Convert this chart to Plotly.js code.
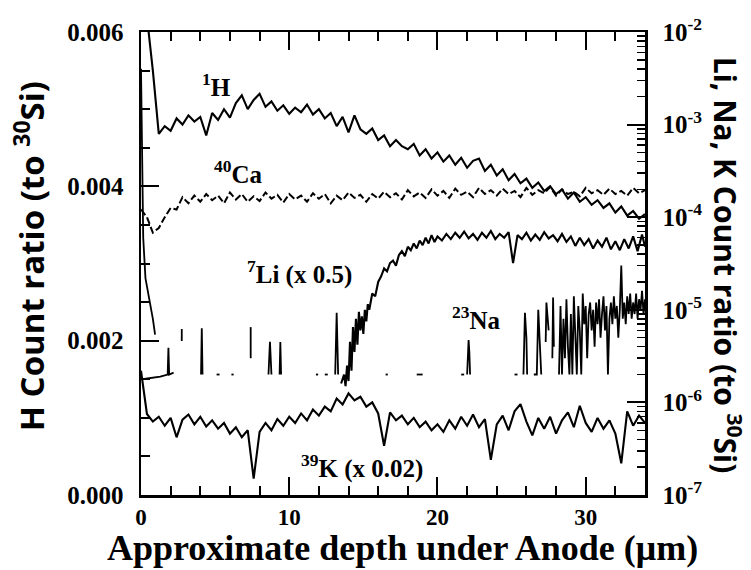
<!DOCTYPE html>
<html>
<head>
<meta charset="utf-8">
<script src="https://cdn.plot.ly/plotly-3.0.1.min.js"></script>
<style>html,body{margin:0;padding:0;background:#fff;}#chart{width:751px;height:570px;}</style>
</head>
<body>
<div id="chart"></div>
<script>
// ---- data ----
const depth = [
  0,0.4,0.8,1.2,1.6,2,2.4,2.8,3.2,3.6,
  4,4.4,4.8,5.2,5.6,6,6.4,6.8,7.2,7.6,
  8,8.4,8.8,9.2,9.6,10,10.4,10.8,11.2,11.6,
  12,12.4,12.8,13.2,13.6,14,14.4,14.8,15.2,15.6,
  16,16.4,16.8,17.2,17.6,18,18.4,18.8,19.2,19.6,
  20,20.4,20.8,21.2,21.6,22,22.4,22.8,23.2,23.6,
  24,24.4,24.8,25.2,25.6,26,26.4,26.8,27.2,27.6,
  28,28.4,28.8,29.2,29.6,30,30.4,30.8,31.2,31.6,
  32,32.4,32.8,33.2,33.6,34];

const hRatio = [
  0.0063,0.0062,0.0055,0.00468,0.00478,0.00472,0.00488,0.00480,0.00492,0.00484,
  0.00490,0.00466,0.00495,0.00486,0.00500,0.00489,0.00508,0.00518,0.00500,0.00512,
  0.00520,0.00503,0.00510,0.00498,0.00505,0.00494,0.00502,0.00496,0.00506,0.00493,
  0.00500,0.00488,0.00495,0.00478,0.00490,0.00470,0.00492,0.00474,0.00468,0.00475,
  0.00460,0.00466,0.00452,0.00460,0.00452,0.00448,0.00455,0.00440,0.00448,0.00436,
  0.00444,0.00432,0.00440,0.00428,0.00437,0.00424,0.00433,0.00436,0.00420,0.00428,
  0.00414,0.00422,0.00408,0.00416,0.00404,0.00410,0.00398,0.00405,0.00394,0.00400,
  0.00390,0.00396,0.00384,0.00392,0.00380,0.00386,0.00376,0.00382,0.00372,0.00378,
  0.00366,0.00374,0.00362,0.00368,0.00358,0.00364];

const caRatio = [
  0.00370,0.00360,0.00340,0.00346,0.00360,0.00372,0.00370,0.00386,0.00378,0.00388,
  0.00380,0.00390,0.00382,0.00388,0.00378,0.00392,0.00383,0.00390,0.00380,0.00387,
  0.00381,0.00392,0.00384,0.00389,0.00379,0.00390,0.00383,0.00388,0.00380,0.00391,
  0.00384,0.00390,0.00378,0.00388,0.00382,0.00392,0.00385,0.00389,0.00380,0.00390,
  0.00384,0.00393,0.00386,0.00391,0.00383,0.00395,0.00387,0.00392,0.00385,0.00396,
  0.00388,0.00394,0.00385,0.00397,0.00389,0.00393,0.00386,0.00398,0.00390,0.00395,
  0.00388,0.00397,0.00390,0.00394,0.00386,0.00398,0.00389,0.00395,0.00391,0.00399,
  0.00388,0.00396,0.00390,0.00393,0.00387,0.00398,0.00391,0.00395,0.00389,0.00397,
  0.00390,0.00394,0.00388,0.00398,0.00391,0.00395];

const kRatio = [
  2.2e-6,7.5e-7,6.2e-7,7.0e-7,5.6e-7,6.8e-7,4.2e-7,6.5e-7,7.4e-7,5.8e-7,
  7.0e-7,5.5e-7,6.4e-7,5.2e-7,6.0e-7,4.6e-7,5.4e-7,4.2e-7,5.0e-7,1.5e-7,
  4.8e-7,6.0e-7,5.0e-7,6.6e-7,5.6e-7,7.0e-7,6.0e-7,7.6e-7,6.4e-7,8.4e-7,
  7.2e-7,9.0e-7,8.0e-7,1.1e-6,9.5e-7,1.25e-6,1.05e-6,1.15e-6,9.0e-7,1.0e-6,
  7.6e-7,3.4e-7,7.8e-7,6.4e-7,7.2e-7,5.8e-7,6.8e-7,5.4e-7,6.2e-7,5.0e-7,
  5.8e-7,4.8e-7,6.4e-7,5.2e-7,7.0e-7,5.6e-7,7.4e-7,5.4e-7,6.6e-7,2.4e-7,
  5.8e-7,7.2e-7,5.0e-7,8.0e-7,9.6e-7,6.2e-7,4.4e-7,6.8e-7,5.2e-7,7.0e-7,
  4.6e-7,6.4e-7,7.8e-7,5.4e-7,9.2e-7,6.0e-7,4.8e-7,6.8e-7,5.2e-7,6.4e-7,
  4.6e-7,2.2e-7,8.0e-7,5.6e-7,7.2e-7,6.0e-7];

const liDepth = [
  13.5,13.7,13.8,13.9,14.0,14.1,14.2,14.3,14.4,14.5,
  14.6,14.7,14.8,14.9,15.0,15.1,15.2,15.3,15.4,15.6,
  15.8,16.0,16.2,16.4,16.6,16.8,17.0,17.2,17.4,17.6,
  17.8,18.0,18.2,18.4,18.6,18.8,19.0,19.2,19.4,19.6,
  19.8,20.0,20.3,20.6,20.9,21.2,21.5,21.8,22.1,22.4,
  22.7,23.0,23.3,23.6,23.9,24.2,24.5,24.8,25.1,25.4,
  25.7,26.0,26.3,26.6,26.9,27.2,27.5,27.8,28.1,28.4,
  28.7,29.0,29.3,29.6,29.9,30.2,30.5,30.8,31.1,31.4,
  31.7,32.0,32.3,32.6,32.9,33.2,33.5,33.8,34.0];
const liRatio = [
  1.6e-6,2.0e-6,1.5e-6,2.5e-6,1.7e-6,4.5e-6,2.2e-6,6.5e-6,3.5e-6,8.0e-6,
  4.2e-6,9.5e-6,6.0e-6,8.5e-6,5.5e-6,1.0e-5,7.5e-6,1.15e-5,1.0e-5,1.5e-5,
  1.4e-5,2.0e-5,2.3e-5,2.8e-5,2.6e-5,3.2e-5,3.4e-5,3.0e-5,3.9e-5,4.3e-5,
  3.8e-5,4.8e-5,4.4e-5,5.2e-5,4.6e-5,5.6e-5,5.0e-5,6.0e-5,5.2e-5,6.4e-5,
  5.4e-5,6.2e-5,5.6e-5,6.6e-5,5.8e-5,6.8e-5,6.0e-5,7.0e-5,5.9e-5,6.6e-5,
  5.7e-5,6.8e-5,6.0e-5,7.1e-5,5.8e-5,6.6e-5,6.0e-5,6.9e-5,3.2e-5,6.4e-5,
  5.8e-5,6.8e-5,5.6e-5,6.5e-5,5.7e-5,6.9e-5,5.9e-5,6.4e-5,5.5e-5,6.6e-5,
  5.4e-5,6.2e-5,4.9e-5,6.0e-5,5.0e-5,5.8e-5,4.6e-5,5.6e-5,4.8e-5,6.0e-5,
  4.5e-5,5.5e-5,4.4e-5,5.8e-5,4.6e-5,6.2e-5,4.3e-5,6.5e-5,4.8e-5];

// Na: null entries separate the pieces (zero counts are not drawn on a log scale)
const naDepth = [
  0.0,0.08,0.15,0.3,0.5,0.65,0.8,0.95,null,
  0.3,0.8,1.3,1.8,1.85,1.9,2.2,null,
  2.75,2.75,null,
  4.05,4.1,4.15,null,
  5.1,5.3,null,6.1,6.25,null,
  7.4,7.4,null,
  8.6,8.7,8.8,null,9.35,9.4,9.45,null,
  11.8,11.95,null,12.4,12.6,null,
  13.1,13.2,13.3,null,
  16.5,16.65,null,18.6,19.0,null,21.6,21.8,null,
  22.0,22.1,22.15,22.2,null,
  25.2,25.4,null,25.8,25.9,26.0,26.05,null,
  26.5,26.7,26.8,26.9,27.0,null,
  27.3,27.35,27.5,null,27.75,27.8,27.85,null,
  28.2,28.3,28.4,28.5,28.6,28.7,28.8,28.9,29.0,29.1,
  29.2,29.3,29.4,29.5,29.6,29.7,29.8,29.9,30.0,30.1,
  30.2,30.3,30.4,30.5,30.6,30.7,30.8,30.9,31.0,31.1,
  31.2,31.3,31.4,31.5,31.6,31.7,31.8,31.9,32.0,32.1,
  32.2,32.3,32.4,32.5,32.6,32.7,32.8,32.9,33.0,33.1,
  33.2,33.3,33.4,33.5,33.6,33.7,33.8,33.9,34.0];
const naRatio = [
  4e-3,5e-4,6e-5,2.2e-5,1.5e-5,1.15e-5,8e-6,5.4e-6,null,
  1.8e-6,1.85e-6,1.9e-6,2.0e-6,3.9e-6,2.0e-6,2.1e-6,null,
  4.6e-6,6.2e-6,null,
  2.0e-6,6.3e-6,2.0e-6,null,
  2.0e-6,2.0e-6,null,2.0e-6,2.0e-6,null,
  3.0e-6,6.5e-6,null,
  2.0e-6,4.5e-6,2.0e-6,null,2.0e-6,4.5e-6,2.0e-6,null,
  2.0e-6,2.0e-6,null,2.0e-6,2.0e-6,null,
  2.0e-6,9.3e-6,2.0e-6,null,
  2.0e-6,2.0e-6,null,2.0e-6,2.0e-6,null,2.0e-6,2.0e-6,null,
  2.0e-6,4.7e-6,3.5e-6,2.0e-6,null,
  2.0e-6,2.0e-6,null,2.0e-6,9.3e-6,5.0e-6,2.0e-6,null,
  2.0e-6,2.0e-6,1.0e-5,4.0e-6,2.0e-6,null,
  4.5e-6,1.2e-5,6.0e-6,null,3.0e-6,1.36e-5,4.0e-6,null,
  2e-6,1.1e-5,2e-6,8e-6,3e-6,1.3e-5,4e-6,2e-6,9e-6,2e-6,
  1.4e-5,5e-6,2e-6,1.1e-5,6e-6,2e-6,1.5e-5,7e-6,1.1e-5,3e-6,
  9e-6,1.2e-5,6e-6,1e-5,4e-6,1.2e-5,7e-6,1.3e-5,5e-6,9e-6,
  1.4e-5,6e-6,1.1e-5,2e-6,8e-6,1.2e-5,7e-6,1.4e-5,8e-6,1.1e-5,
  5e-6,1e-5,3e-5,8e-6,1.2e-5,7e-6,1.4e-5,9e-6,1.5e-5,8e-6,
  1.2e-5,9e-6,1.5e-5,8e-6,1.3e-5,1e-5,1.6e-5,9e-6,1.3e-5];

const rightTickVals = [1e-7,1e-6,1e-5,1e-4,1e-3,1e-2];
const rightTickText = ['10<sup>-7</sup>','10<sup>-6</sup>','10<sup>-5</sup>','10<sup>-4</sup>','10<sup>-3</sup>','10<sup>-2</sup>'];

const labelText = ['<sup>1</sup>H','<sup>40</sup>Ca','<sup>7</sup>Li (x 0.5)','<sup>23</sup>Na','<sup>39</sup>K (x 0.02)'];
const labelDepth = [5.1, 6.6, 10.7, 22.6, 14.9];
const labelLevel = [0.00531, 0.00419, 0.00288, 0.00229, 0.00037];

const xTitle = 'Approximate depth under Anode (μm)';
const yTitle = 'H Count ratio (to <sup>30</sup>Si)';
const y2Title = 'Li, Na, K Count ratio (to <sup>30</sup>Si)';

// ---- build chart ----
const serif = 'Liberation Serif, Times New Roman, serif';
const sans = 'Open Sans, Noto Sans, sans-serif';
const ink = '#000';

const minorLog = [];
for (let e = -7; e < -2; e++) {
  for (let m = 2; m <= 9; m++) minorLog.push(m * Math.pow(10, e));
}

const traces = [
  {x: depth, y: hRatio, yaxis: 'y', name: 'H', mode: 'lines', line: {color: ink, width: 2.1}},
  {x: depth, y: caRatio, yaxis: 'y', name: 'Ca', mode: 'lines', line: {color: ink, width: 2, dash: '7px,3px'}},
  {x: liDepth, y: liRatio, yaxis: 'y2', name: 'Li', mode: 'lines', line: {color: ink, width: 2.1}},
  {x: naDepth, y: naRatio, yaxis: 'y2', name: 'Na', mode: 'lines', connectgaps: false, line: {color: ink, width: 1.8}},
  {x: depth, y: kRatio, yaxis: 'y2', name: 'K', mode: 'lines', line: {color: ink, width: 2.1}}
];

const annotations = labelText.map((t, i) => ({
  x: labelDepth[i], y: labelLevel[i], xref: 'x', yref: 'y', text: t, showarrow: false,
  font: {family: serif, size: 25, color: ink, weight: 'bold'}, xanchor: 'center', yanchor: 'middle'
}));
annotations.push({
  x: 0.518, y: -0.114, xref: 'paper', yref: 'paper', showarrow: false, text: xTitle,
  font: {family: serif, size: 36, color: ink, weight: 'bold'}, xanchor: 'center', yanchor: 'middle'
});
annotations.push({
  x: -0.222, y: 0.516, xref: 'paper', yref: 'paper', textangle: -90, showarrow: false, text: yTitle,
  font: {family: sans, size: 33, color: ink, weight: 'bold'}, xanchor: 'center', yanchor: 'middle'
});
annotations.push({
  x: 1.163, y: 0.497, xref: 'paper', yref: 'paper', textangle: 90, showarrow: false, text: y2Title,
  font: {family: sans, size: 30, color: ink, weight: 'bold'}, xanchor: 'center', yanchor: 'middle'
});

const layout = {
  width: 751, height: 570,
  margin: {l: 141, r: 106, t: 32, b: 75},
  paper_bgcolor: '#fff', plot_bgcolor: '#fff',
  showlegend: false,
  xaxis: {
    range: [0, 34], dtick: 10, tick0: 0, showgrid: false, zeroline: false,
    showline: true, linecolor: ink, linewidth: 2.5, mirror: 'ticks',
    ticks: 'inside', ticklen: 18, tickwidth: 2, tickcolor: ink,
    minor: {dtick: 2, ticks: 'inside', ticklen: 9, tickwidth: 2, tickcolor: ink, showgrid: false},
    tickfont: {family: serif, size: 23, color: ink, weight: 'bold'},
    ticklabelstandoff: 0
  },
  yaxis: {
    range: [0, 0.006], dtick: 0.002, tick0: 0, tickformat: '.3f',
    showgrid: false, zeroline: false,
    showline: true, linecolor: ink, linewidth: 2.5,
    ticks: 'inside', ticklen: 18, tickwidth: 2, tickcolor: ink,
    minor: {dtick: 0.0005, ticks: 'inside', ticklen: 9, tickwidth: 2, tickcolor: ink, showgrid: false},
    tickfont: {family: serif, size: 25, color: ink, weight: 'bold'},
    ticklabelstandoff: 10
  },
  yaxis2: {
    type: 'log', range: [-7, -2], overlaying: 'y', side: 'right',
    showgrid: false, zeroline: false,
    showline: true, linecolor: ink, linewidth: 2.5,
    tickmode: 'array', tickvals: rightTickVals, ticktext: rightTickText,
    ticks: 'inside', ticklen: 18, tickwidth: 2, tickcolor: ink,
    minor: {tickmode: 'array', tickvals: minorLog, ticks: 'inside', ticklen: 8, tickwidth: 1.5, tickcolor: ink, showgrid: false},
    tickfont: {family: serif, size: 25, color: ink, weight: 'bold'},
    ticklabelstandoff: 10
  },
  annotations: annotations
};

Plotly.newPlot('chart', traces, layout, {displayModeBar: false, staticPlot: true});
</script>
</body>
</html>
